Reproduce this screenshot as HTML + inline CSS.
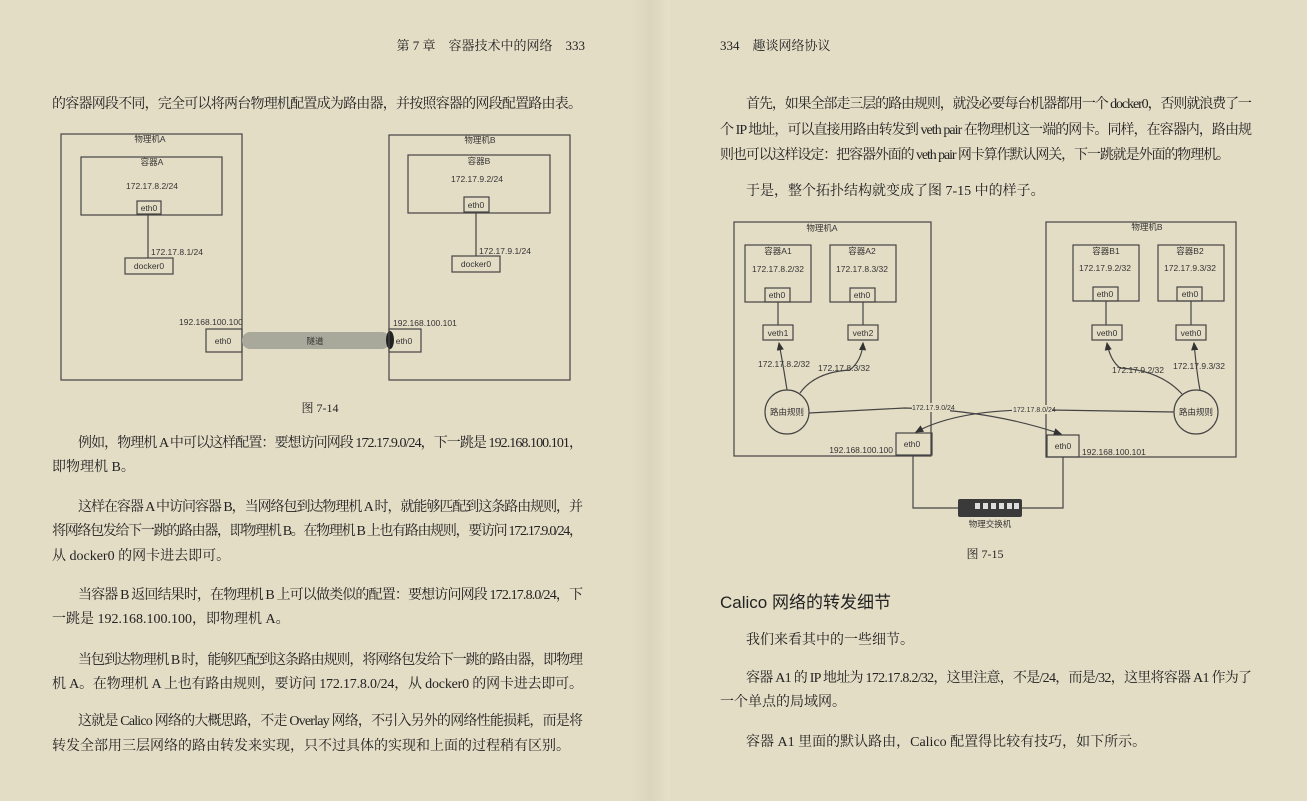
<!DOCTYPE html>
<html><head><meta charset="utf-8"><style>
html,body{margin:0;padding:0;background:#e4ddc6;}
svg{display:block}
.t{font-family:"Liberation Serif","Noto Serif CJK SC",serif;font-size:14px;fill:#222}
.d{font-family:"Liberation Sans","Noto Sans CJK SC",sans-serif;font-size:8.5px;fill:#333}
.b{fill:none;stroke:#444;stroke-width:1.2}
</style></head><body>
<svg width="1307" height="801" viewBox="0 0 1307 801" xmlns="http://www.w3.org/2000/svg">
<defs>
<linearGradient id="fold" x1="0" x2="1"><stop offset="0" stop-color="#e4ddc6"/><stop offset="0.5" stop-color="#dcd5bd"/><stop offset="1" stop-color="#e6dfc9"/></linearGradient>
<marker id="ar" markerWidth="8" markerHeight="8" refX="6" refY="3" orient="auto"><path d="M0,0 L7,3 L0,6 z" fill="#333"/></marker>
</defs>
<rect width="1307" height="801" fill="#e4ddc6"/>
<rect x="630" y="0" width="40" height="801" fill="url(#fold)"/>

<!-- headers -->
<text class="t" x="585" y="50" text-anchor="end" style="font-size:13px">第 7 章　容器技术中的网络　333</text>
<text class="t" x="720" y="50" style="font-size:13px">334　趣谈网络协议</text>

<!-- left text -->
<g class="t">
<text x="52" y="108" textLength="530">的容器网段不同，完全可以将两台物理机配置成为路由器，并按照容器的网段配置路由表。</text>
<text x="78" y="447" textLength="505">例如，物理机 A 中可以这样配置：要想访问网段 172.17.9.0/24，下一跳是 192.168.100.101，</text>
<text x="52" y="471">即物理机 B。</text>
<text x="78" y="511" textLength="505">这样在容器 A 中访问容器 B，当网络包到达物理机 A 时，就能够匹配到这条路由规则，并</text>
<text x="52" y="535" textLength="531">将网络包发给下一跳的路由器，即物理机 B。在物理机 B 上也有路由规则，要访问 172.17.9.0/24，</text>
<text x="52" y="560">从 docker0 的网卡进去即可。</text>
<text x="78" y="599" textLength="505">当容器 B 返回结果时，在物理机 B 上可以做类似的配置：要想访问网段 172.17.8.0/24，下</text>
<text x="52" y="623">一跳是 192.168.100.100，即物理机 A。</text>
<text x="78" y="664" textLength="505">当包到达物理机 B 时，能够匹配到这条路由规则，将网络包发给下一跳的路由器，即物理</text>
<text x="52" y="688" textLength="531">机 A。在物理机 A 上也有路由规则，要访问 172.17.8.0/24，从 docker0 的网卡进去即可。</text>
<text x="78" y="725" textLength="505">这就是 Calico 网络的大概思路，不走 Overlay 网络，不引入另外的网络性能损耗，而是将</text>
<text x="52" y="750">转发全部用三层网络的路由转发来实现，只不过具体的实现和上面的过程稍有区别。</text>
</g>

<!-- left diagram -->
<g class="d">
<rect class="b" x="61" y="134" width="181" height="246"/>
<text x="150" y="142" text-anchor="middle">物理机A</text>
<rect class="b" x="81" y="157" width="141" height="58"/>
<text x="152" y="165" text-anchor="middle">容器A</text>
<text x="152" y="189" text-anchor="middle">172.17.8.2/24</text>
<rect class="b" x="137" y="201" width="24" height="13" fill="#e4ddc6"/>
<text x="149" y="211" text-anchor="middle">eth0</text>
<line class="b" x1="148" y1="214" x2="148" y2="258"/>
<text x="151" y="255">172.17.8.1/24</text>
<rect class="b" x="125" y="258" width="48" height="16"/>
<text x="149" y="269" text-anchor="middle">docker0</text>
<text x="179" y="325">192.168.100.100</text>
<rect class="b" x="206" y="329" width="36" height="23"/>
<text x="223" y="344" text-anchor="middle">eth0</text>
<rect x="242" y="332" width="148" height="17" rx="8" fill="#a8a99a"/>
<text x="315" y="344" text-anchor="middle">隧道</text>
<ellipse cx="390" cy="340" rx="4" ry="9" fill="#222"/>
<rect class="b" x="389" y="135" width="181" height="245"/>
<text x="480" y="143" text-anchor="middle">物理机B</text>
<rect class="b" x="408" y="155" width="142" height="58"/>
<text x="479" y="164" text-anchor="middle">容器B</text>
<text x="477" y="182" text-anchor="middle">172.17.9.2/24</text>
<rect class="b" x="464" y="197" width="25" height="15" fill="#e4ddc6"/>
<text x="476" y="208" text-anchor="middle">eth0</text>
<line class="b" x1="476" y1="212" x2="476" y2="256"/>
<text x="479" y="254">172.17.9.1/24</text>
<rect class="b" x="452" y="256" width="48" height="16"/>
<text x="476" y="267" text-anchor="middle">docker0</text>
<text x="393" y="326">192.168.100.101</text>
<rect class="b" x="389" y="329" width="32" height="23"/>
<text x="404" y="344" text-anchor="middle">eth0</text>
</g>
<text class="t" x="320" y="412" text-anchor="middle" style="font-size:12px">图 7-14</text>

<!-- right text -->
<g class="t">
<text x="746" y="108" textLength="506">首先，如果全部走三层的路由规则，就没必要每台机器都用一个 docker0，否则就浪费了一</text>
<text x="720" y="134" textLength="532">个 IP 地址，可以直接用路由转发到 veth pair 在物理机这一端的网卡。同样，在容器内，路由规</text>
<text x="720" y="159" textLength="510">则也可以这样设定：把容器外面的 veth pair 网卡算作默认网关，下一跳就是外面的物理机。</text>
<text x="746" y="195">于是，整个拓扑结构就变成了图 7-15 中的样子。</text>
<text x="720" y="608" style="font-family:'Liberation Sans','Noto Sans CJK SC',sans-serif;font-size:17px">Calico 网络的转发细节</text>
<text x="746" y="644">我们来看其中的一些细节。</text>
<text x="746" y="682" textLength="506">容器 A1 的 IP 地址为 172.17.8.2/32，这里注意，不是/24，而是/32，这里将容器 A1 作为了</text>
<text x="720" y="706">一个单点的局域网。</text>
<text x="746" y="746">容器 A1 里面的默认路由，Calico 配置得比较有技巧，如下所示。</text>
</g>

<!-- right diagram -->
<g class="d">
<rect class="b" x="734" y="222" width="197" height="234"/>
<text x="822" y="231" text-anchor="middle">物理机A</text>
<rect class="b" x="745" y="245" width="66" height="57"/>
<text x="778" y="254" text-anchor="middle">容器A1</text>
<text x="778" y="272" text-anchor="middle">172.17.8.2/32</text>
<rect class="b" x="765" y="288" width="25" height="14"/>
<text x="777" y="298" text-anchor="middle">eth0</text>
<rect class="b" x="830" y="245" width="66" height="57"/>
<text x="862" y="254" text-anchor="middle">容器A2</text>
<text x="862" y="272" text-anchor="middle">172.17.8.3/32</text>
<rect class="b" x="850" y="288" width="25" height="14"/>
<text x="862" y="298" text-anchor="middle">eth0</text>
<line class="b" x1="778" y1="302" x2="778" y2="325"/>
<line class="b" x1="863" y1="302" x2="863" y2="325"/>
<rect class="b" x="763" y="325" width="30" height="15"/>
<text x="778" y="336" text-anchor="middle">veth1</text>
<rect class="b" x="848" y="325" width="30" height="15"/>
<text x="863" y="336" text-anchor="middle">veth2</text>
<circle class="b" cx="787" cy="412" r="22"/>
<text x="787" y="415" text-anchor="middle">路由规则</text>
<path class="b" d="M787,390 Q784,370 779,343" marker-end="url(#ar)"/>
<path class="b" d="M800,393 Q815,372 850,370 Q862,360 863,343" marker-end="url(#ar)"/>
<text x="758" y="367">172.17.8.2/32</text>
<text x="818" y="371">172.17.8.3/32</text>
<text x="893" y="453" text-anchor="end">192.168.100.100</text>
<rect class="b" x="896" y="433" width="36" height="22" fill="#e4ddc6"/>
<text x="912" y="447" text-anchor="middle">eth0</text>

<rect class="b" x="1046" y="222" width="190" height="235"/>
<text x="1147" y="230" text-anchor="middle">物理机B</text>
<rect class="b" x="1073" y="245" width="66" height="56"/>
<text x="1106" y="254" text-anchor="middle">容器B1</text>
<text x="1105" y="271" text-anchor="middle">172.17.9.2/32</text>
<rect class="b" x="1093" y="287" width="25" height="14"/>
<text x="1105" y="297" text-anchor="middle">eth0</text>
<rect class="b" x="1158" y="245" width="66" height="56"/>
<text x="1190" y="254" text-anchor="middle">容器B2</text>
<text x="1190" y="271" text-anchor="middle">172.17.9.3/32</text>
<rect class="b" x="1177" y="287" width="25" height="14"/>
<text x="1190" y="297" text-anchor="middle">eth0</text>
<line class="b" x1="1106" y1="301" x2="1106" y2="325"/>
<line class="b" x1="1191" y1="301" x2="1191" y2="325"/>
<rect class="b" x="1092" y="325" width="30" height="15"/>
<text x="1107" y="336" text-anchor="middle">veth0</text>
<rect class="b" x="1176" y="325" width="30" height="15"/>
<text x="1191" y="336" text-anchor="middle">veth0</text>
<circle class="b" cx="1196" cy="412" r="22"/>
<text x="1196" y="415" text-anchor="middle">路由规则</text>
<path class="b" d="M1182,394 Q1160,370 1120,368 Q1110,360 1107,343" marker-end="url(#ar)"/>
<path class="b" d="M1200,390 Q1197,375 1194,343" marker-end="url(#ar)"/>
<text x="1112" y="373">172.17.9.2/32</text>
<text x="1173" y="369">172.17.9.3/32</text>
<rect class="b" x="1047" y="435" width="32" height="22" fill="#e4ddc6"/>
<text x="1063" y="449" text-anchor="middle">eth0</text>
<text x="1082" y="455">192.168.100.101</text>

<path class="b" d="M809,413 L905,408 Q990,410 1061,434" marker-end="url(#ar)"/>
<path class="b" d="M1174,412 L1050,410 Q960,408 916,432" marker-end="url(#ar)"/>
<rect x="912" y="403" width="38" height="9" fill="#e4ddc6"/>
<text x="912" y="410" style="font-size:7px">172.17.9.0/24</text>
<rect x="1012" y="405" width="40" height="9" fill="#e4ddc6"/>
<text x="1013" y="412" style="font-size:7px">172.17.8.0/24</text>

<polyline class="b" points="913,455 913,508 958,508"/>
<polyline class="b" points="1022,508 1063,508 1063,457"/>
<rect x="958" y="499" width="64" height="18" rx="2" fill="#3a3a3a"/>
<g fill="#ddd"><rect x="975" y="503" width="5" height="6"/><rect x="983" y="503" width="5" height="6"/><rect x="991" y="503" width="5" height="6"/><rect x="999" y="503" width="5" height="6"/><rect x="1007" y="503" width="5" height="6"/><rect x="1014" y="503" width="5" height="6"/></g>
<text x="990" y="527" text-anchor="middle">物理交换机</text>
</g>
<text class="t" x="985" y="558" text-anchor="middle" style="font-size:12px">图 7-15</text>
</svg>
</body></html>
